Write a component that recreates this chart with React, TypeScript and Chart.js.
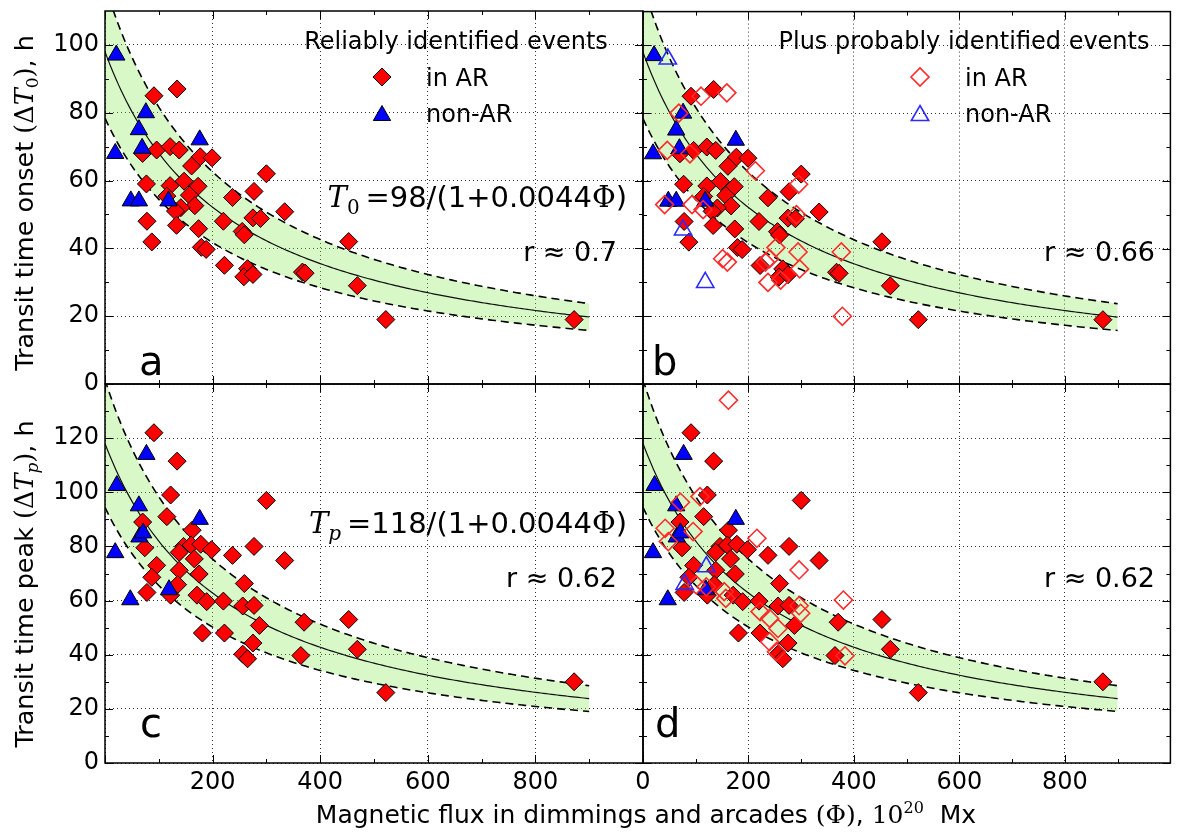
import React, { useEffect, useRef } from 'react';
import { Chart, registerables } from 'chart.js';

Chart.register(...registerables);

// ---------- data ----------
const X_TICKS = [0, 200, 400, 600, 800, 1000];
const X_MINOR = [100, 300, 500, 700, 900];
const ONSET_TICKS = [0, 20, 40, 60, 80, 100];
const ONSET_MINOR = [10, 30, 50, 70, 90];
const PEAK_TICKS = [0, 20, 40, 60, 80, 100, 120, 140];
const PEAK_MINOR = [10, 30, 50, 70, 90, 110, 130];

// fit: T = A / (1 + B * Phi), band +-20 %
const FIT_ONSET_A = 98;
const FIT_PEAK_A = 118;
const FIT_B = 0.0044;
const FIT_BAND = 0.2;
const FIT_PHI_MAX = 900;

// reliably identified, in AR: onset (panel a, b)
const onsetAR: number[][] = [
  [91, 85], [134, 87], [70, 68], [96, 69], [121, 70], [138, 69], [177, 67], [199, 66.7], [161, 64.3],
  [300, 62], [77, 59], [121, 58.5], [147, 59.8], [173, 58.3], [157, 55.7], [115, 55.4], [237, 55],
  [277, 56.8], [167, 52.6], [141, 52], [131, 51], [334, 50.8], [275, 49], [289, 48.8], [78, 48],
  [133, 46.8], [174, 45.8], [220, 48], [255, 45], [259, 44], [87, 41.9], [453, 42], [179, 40.3],
  [188, 39.7], [222, 35], [265, 34], [258, 31.6], [275, 32.3], [367, 33], [372, 32.7], [469, 29],
  [522, 19], [872, 19],
];
// reliably identified, non-AR: onset
const onsetNonAR: number[][] = [
  [21, 97], [19, 68], [76, 80], [63, 75], [69, 69.5], [176, 72], [48, 54], [63, 54], [118, 54],
];
// probably identified, in AR: onset (panel b)
const onsetProbAR: number[][] = [
  [110, 85], [159, 86], [68, 80], [46, 69], [89, 68], [213, 63], [295, 59], [41, 53], [93, 53],
  [114, 51.5], [291, 50], [252, 40.3], [294, 39], [376, 39], [151, 37], [160, 36], [232, 36],
  [240, 37], [297, 34], [237, 30], [261, 30.7], [378, 20],
];
// probably identified, non-AR: onset
const onsetProbNonAR: number[][] = [[47, 96], [76, 45.5], [118, 30]];

// reliably identified, in AR: peak (panel c, d)
const peakAR: number[][] = [
  [91, 122], [134, 111.5], [122, 99], [300, 97], [115, 91], [70, 89], [162, 86], [74, 79.5],
  [146, 80], [160, 80.5], [178, 80.8], [198, 78.8], [237, 76.7], [277, 80], [138, 77.8],
  [166, 75.4], [334, 74.8], [96, 73], [138, 71.2], [175, 69.8], [87, 68.6], [259, 66.3], [135, 65.9],
  [78, 63], [122, 62], [171, 62], [189, 59.6], [220, 59.8], [256, 58], [277, 58.2], [370, 52],
  [453, 53], [287, 50.8], [181, 48], [222, 48], [275, 44.3], [469, 42], [256, 40.2], [265, 38.5],
  [364, 39.7], [522, 26], [872, 30],
];
// reliably identified, non-AR: peak
const peakNonAR: number[][] = [
  [77, 114], [22, 102.5], [63, 95], [64, 83.5], [71, 85], [176, 90], [19, 77.7], [47, 60.3], [119, 64],
];
// probably identified, in AR: peak (panel d)
const peakProbAR: number[][] = [
  [162, 134], [71, 96.3], [108, 98.4], [42, 86.7], [48, 81.8], [95, 85.5], [216, 83], [296, 71.3],
  [101, 65.8], [120, 65.1], [154, 63.3], [157, 60.8], [380, 60.2], [222, 55.9], [240, 53.4],
  [256, 49.7], [296, 58.1], [299, 55.3], [240, 44.8], [253, 41.1], [383, 39.6],
];
// probably identified, non-AR: peak
const peakProbNonAR: number[][] = [[120, 72.5], [79, 66]];

// ---------- layout ----------
const W = 1182;
const H = 833;
const X_LEFT = 105;
const X_MID = 643;
const X_RIGHT = 1180;
const Y_TOP = 5;
const Y_MID = 384;
const Y_BOTTOM = 763;

const SANS = '"DejaVu Sans", sans-serif';
const SERIF = '"DejaVu Serif", serif';

type Seg = { t: string; f: string; dy?: number };

function drawRich(
  ctx: CanvasRenderingContext2D,
  segs: Seg[],
  x: number,
  y: number,
  align: 'left' | 'center' | 'right',
  rotate = false
) {
  ctx.save();
  ctx.translate(x, y);
  if (rotate) ctx.rotate(-Math.PI / 2);
  ctx.textBaseline = 'alphabetic';
  ctx.textAlign = 'left';
  ctx.fillStyle = '#000';
  let total = 0;
  for (const s of segs) {
    ctx.font = s.f;
    total += ctx.measureText(s.t).width;
  }
  let cx = align === 'left' ? 0 : align === 'center' ? -total / 2 : -total;
  for (const s of segs) {
    ctx.font = s.f;
    ctx.fillText(s.t, cx, s.dy || 0);
    cx += ctx.measureText(s.t).width;
  }
  ctx.restore();
}

function diamondPath(ctx: CanvasRenderingContext2D, x: number, y: number, r: number) {
  ctx.beginPath();
  ctx.moveTo(x - r, y);
  ctx.lineTo(x, y - r);
  ctx.lineTo(x + r, y);
  ctx.lineTo(x, y + r);
  ctx.closePath();
}
function trianglePath(ctx: CanvasRenderingContext2D, x: number, y: number, r: number) {
  ctx.beginPath();
  for (let i = 0; i < 3; i++) {
    const a = (i * 2 * Math.PI) / 3;
    const px = x + Math.sin(a) * r;
    const py = y - Math.cos(a) * r + r / 4;
    if (i === 0) ctx.moveTo(px, py);
    else ctx.lineTo(px, py);
  }
  ctx.closePath();
}

type Panel = {
  left: number;
  right: number;
  top: number;
  bottom: number;
  yMax: number;
  yTicks: number[];
  yMinor: number[];
  showY: boolean;
  showX: boolean;
  hiddenX: number[];
  hiddenY: number[];
  fitA: number;
  ar: number[][];
  nonAr: number[][];
  probAr?: number[][];
  probNonAr?: number[][];
  draw: (ctx: CanvasRenderingContext2D) => void;
};

const FORMULA_SIZE = 29;
const R_SIZE = 27;
const LEG_SIZE = 24;
const TITLE_SIZE = 25;

function formula(sub: string): Seg[] {
  return [
    { t: 'T', f: `italic ${FORMULA_SIZE}px ${SERIF}` },
    { t: sub, f: `${sub === 'p' ? 'italic ' : ''}20px ${SERIF}`, dy: 7 },
    { t: '\u2009=', f: `${FORMULA_SIZE}px ${SANS}` },
  ];
}

function yTitle(label: string, sub: string): Seg[] {
  const s = 25.5;
  return [
    { t: label, f: `${s}px ${SANS}` },
    { t: '(Δ', f: `${s}px ${SERIF}` },
    { t: 'T', f: `italic ${s}px ${SERIF}` },
    { t: sub, f: `${sub === 'p' ? 'italic ' : ''}17px ${SERIF}`, dy: 5 },
    { t: ')', f: `${s}px ${SERIF}` },
    { t: ', h', f: `${s}px ${SANS}` },
  ];
}

function legend(ctx: CanvasRenderingContext2D, title: string, cx: number, mx: number, tx: number, open: boolean) {
  drawRich(ctx, [{ t: title, f: `${LEG_SIZE}px ${SANS}` }], cx, 49, 'center');
  ctx.save();
  diamondPath(ctx, mx, 77, 9);
  if (open) {
    ctx.strokeStyle = '#ff2a2a';
    ctx.lineWidth = 1.6;
    ctx.stroke();
  } else {
    ctx.fillStyle = '#ff0000';
    ctx.fill();
    ctx.strokeStyle = '#000';
    ctx.lineWidth = 1;
    ctx.stroke();
  }
  trianglePath(ctx, mx, 113, 10);
  if (open) {
    ctx.strokeStyle = '#2a2aff';
    ctx.lineWidth = 1.6;
    ctx.stroke();
  } else {
    ctx.fillStyle = '#0000ff';
    ctx.fill();
    ctx.strokeStyle = '#000';
    ctx.lineWidth = 1;
    ctx.stroke();
  }
  ctx.restore();
  drawRich(ctx, [{ t: 'in AR', f: `${LEG_SIZE}px ${SANS}` }], tx, 86, 'left');
  drawRich(ctx, [{ t: 'non-AR', f: `${LEG_SIZE}px ${SANS}` }], tx, 122, 'left');
}

const PANELS: Panel[] = [
  {
    left: X_LEFT, right: X_MID, top: Y_TOP, bottom: Y_MID,
    yMax: 110, yTicks: ONSET_TICKS, yMinor: ONSET_MINOR,
    showY: true, showX: false, hiddenX: [], hiddenY: [],
    fitA: FIT_ONSET_A, ar: onsetAR, nonAr: onsetNonAR,
    draw: (ctx) => {
      legend(ctx, 'Reliably identified events', 456, 382, 426, false);
      drawRich(ctx, [...formula('0'), { t: '98/(1+0.0044', f: `${FORMULA_SIZE}px ${SANS}` }, { t: 'Φ', f: `${FORMULA_SIZE}px ${SERIF}` }, { t: ')', f: `${FORMULA_SIZE}px ${SANS}` }], 627, 207, 'right');
      drawRich(ctx, [{ t: 'r ≈ 0.7', f: `${R_SIZE}px ${SANS}` }], 617, 261, 'right');
      drawRich(ctx, [{ t: 'a', f: `40px ${SANS}` }], 139, 375, 'left');
      drawRich(ctx, yTitle('Transit time onset ', '0'), 33, 203, 'center', true);
    },
  },
  {
    left: X_MID, right: X_RIGHT, top: Y_TOP, bottom: Y_MID,
    yMax: 110, yTicks: ONSET_TICKS, yMinor: ONSET_MINOR,
    showY: false, showX: false, hiddenX: [], hiddenY: [],
    fitA: FIT_ONSET_A, ar: onsetAR, nonAr: onsetNonAR, probAr: onsetProbAR, probNonAr: onsetProbNonAR,
    draw: (ctx) => {
      legend(ctx, 'Plus probably identified events', 964, 920, 965, true);
      drawRich(ctx, [{ t: 'r ≈ 0.66', f: `${R_SIZE}px ${SANS}` }], 1155, 261, 'right');
      drawRich(ctx, [{ t: 'b', f: `40px ${SANS}` }], 652, 375, 'left');
    },
  },
  {
    left: X_LEFT, right: X_MID, top: Y_MID, bottom: Y_BOTTOM,
    yMax: 140, yTicks: PEAK_TICKS, yMinor: PEAK_MINOR,
    showY: true, showX: true, hiddenX: [0, 1000], hiddenY: [140],
    fitA: FIT_PEAK_A, ar: peakAR, nonAr: peakNonAR,
    draw: (ctx) => {
      drawRich(ctx, [...formula('p'), { t: '118/(1+0.0044', f: `${FORMULA_SIZE}px ${SANS}` }, { t: 'Φ', f: `${FORMULA_SIZE}px ${SERIF}` }, { t: ')', f: `${FORMULA_SIZE}px ${SANS}` }], 627, 533, 'right');
      drawRich(ctx, [{ t: 'r ≈ 0.62', f: `${R_SIZE}px ${SANS}` }], 617, 587, 'right');
      drawRich(ctx, [{ t: 'c', f: `40px ${SANS}` }], 140, 737, 'left');
      drawRich(ctx, yTitle('Transit time peak ', 'p'), 33, 584, 'center', true);
    },
  },
  {
    left: X_MID, right: X_RIGHT, top: Y_MID, bottom: Y_BOTTOM,
    yMax: 140, yTicks: PEAK_TICKS, yMinor: PEAK_MINOR,
    showY: false, showX: true, hiddenX: [1000], hiddenY: [],
    fitA: FIT_PEAK_A, ar: peakAR, nonAr: peakNonAR, probAr: peakProbAR, probNonAr: peakProbNonAR,
    draw: (ctx) => {
      drawRich(ctx, [{ t: 'r ≈ 0.62', f: `${R_SIZE}px ${SANS}` }], 1155, 587, 'right');
      drawRich(ctx, [{ t: 'd', f: `40px ${SANS}` }], 655, 737, 'left');
      drawRich(
        ctx,
        [
          { t: 'Magnetic flux in dimmings and arcades ', f: `${TITLE_SIZE}px ${SANS}` },
          { t: '(Φ)', f: `${TITLE_SIZE}px ${SERIF}` },
          { t: ', ', f: `${TITLE_SIZE}px ${SANS}` },
          { t: '10', f: `${TITLE_SIZE}px ${SERIF}` },
          { t: '20', f: `16px ${SERIF}`, dy: -10 },
          { t: '  Mx', f: `${TITLE_SIZE}px ${SANS}` },
        ],
        646,
        823,
        'center'
      );
    },
  },
];

function toXY(arr: number[][]) {
  return arr.map(([x, y]) => ({ x, y }));
}

function fitCurve(a: number, factor: number) {
  const pts: { x: number; y: number }[] = [];
  for (let phi = 0; phi <= FIT_PHI_MAX; phi += 5) {
    pts.push({ x: phi, y: (factor * a) / (1 + FIT_B * phi) });
  }
  return pts;
}

function makeOverlay(p: Panel) {
  return {
    id: 'overlay',
    afterDraw(chart: any) {
      const { ctx, chartArea: ca, scales } = chart;
      const xs = scales.x;
      const ys = scales.y;
      ctx.save();
      ctx.strokeStyle = '#000';
      ctx.lineWidth = 1;
      ctx.beginPath();
      const xt = (vals: number[], len: number) => {
        for (const v of vals) {
          const px = Math.round(xs.getPixelForValue(v)) + 0.5;
          ctx.moveTo(px, ca.bottom);
          ctx.lineTo(px, ca.bottom - len);
          ctx.moveTo(px, ca.top);
          ctx.lineTo(px, ca.top + len);
        }
      };
      const yt = (vals: number[], len: number) => {
        for (const v of vals) {
          const py = Math.round(ys.getPixelForValue(v)) + 0.5;
          ctx.moveTo(ca.left, py);
          ctx.lineTo(ca.left + len, py);
          ctx.moveTo(ca.right, py);
          ctx.lineTo(ca.right - len, py);
        }
      };
      xt(X_TICKS, 8);
      xt(X_MINOR, 4);
      yt(p.yTicks, 8);
      yt(p.yMinor, 4);
      ctx.stroke();
      ctx.lineWidth = 1.5;
      ctx.strokeRect(ca.left, ca.top, ca.right - ca.left, ca.bottom - ca.top);
      p.draw(ctx);
      ctx.restore();
    },
  };
}

function zeroPad(s: any) {
  s.paddingLeft = 0;
  s.paddingRight = 0;
  s.paddingTop = 0;
  s.paddingBottom = 0;
}

function makeConfig(p: Panel): any {
  const datasets: any[] = [
    {
      label: 'upper',
      data: fitCurve(p.fitA, 1 + FIT_BAND),
      showLine: true,
      pointRadius: 0,
      borderColor: '#000',
      borderWidth: 1.6,
      borderDash: [8, 5],
      fill: '+1',
      backgroundColor: 'rgba(128, 232, 72, 0.3)',
      order: 10,
    },
    {
      label: 'lower',
      data: fitCurve(p.fitA, 1 - FIT_BAND),
      showLine: true,
      pointRadius: 0,
      borderColor: '#000',
      borderWidth: 1.6,
      borderDash: [8, 5],
      fill: false,
      order: 9,
    },
    {
      label: 'fit',
      data: fitCurve(p.fitA, 1),
      showLine: true,
      pointRadius: 0,
      borderColor: '#111',
      borderWidth: 1.2,
      fill: false,
      order: 8,
    },
    {
      label: 'in AR',
      data: toXY(p.ar),
      pointStyle: 'rectRot',
      pointRadius: 9,
      backgroundColor: '#ff0000',
      borderColor: '#000',
      borderWidth: 1,
      order: 4,
    },
    {
      label: 'non-AR',
      data: toXY(p.nonAr),
      pointStyle: 'triangle',
      pointRadius: 10,
      backgroundColor: '#0000ff',
      borderColor: '#000',
      borderWidth: 1,
      order: 3,
    },
  ];
  if (p.probAr) {
    datasets.push({
      label: 'prob in AR',
      data: toXY(p.probAr),
      pointStyle: 'rectRot',
      pointRadius: 9,
      backgroundColor: 'rgba(0,0,0,0)',
      borderColor: '#ff2a2a',
      borderWidth: 1.6,
      order: 2,
    });
  }
  if (p.probNonAr) {
    datasets.push({
      label: 'prob non-AR',
      data: toXY(p.probNonAr),
      pointStyle: 'triangle',
      pointRadius: 10,
      backgroundColor: 'rgba(0,0,0,0)',
      borderColor: '#2a2aff',
      borderWidth: 1.6,
      order: 1,
    });
  }

  const gridCommon = { color: 'rgba(0,0,0,0.8)', lineWidth: 1, drawTicks: false };
  return {
    type: 'scatter',
    data: { datasets },
    options: {
      animation: false,
      responsive: false,
      devicePixelRatio: 1,
      events: [],
      layout: {
        padding: {
          left: 0,
          top: p.top,
          right: W - p.right,
          bottom: p.showX ? 0 : H - p.bottom,
        },
      },
      plugins: { legend: { display: false }, tooltip: { enabled: false }, title: { display: false } },
      scales: {
        x: {
          type: 'linear',
          min: 0,
          max: 1000,
          afterBuildTicks: (s: any) => {
            s.ticks = X_TICKS.map((v) => ({ value: v }));
          },
          afterFit: (s: any) => {
            s.height = p.showX ? H - p.bottom : 0;
            zeroPad(s);
          },
          grid: gridCommon,
          border: { display: false, dash: [1, 3] },
          ticks: {
            display: p.showX,
            padding: 5,
            color: '#000',
            autoSkip: false,
            maxRotation: 0,
            font: { family: 'DejaVu Sans', size: 24 },
            callback: (v: number) => (p.hiddenX.includes(v) ? '' : String(v)),
          },
        },
        y: {
          type: 'linear',
          min: 0,
          max: p.yMax,
          afterBuildTicks: (s: any) => {
            s.ticks = p.yTicks.map((v) => ({ value: v }));
          },
          afterFit: (s: any) => {
            s.width = p.left;
            zeroPad(s);
          },
          grid: gridCommon,
          border: { display: false, dash: [1, 3] },
          ticks: {
            display: p.showY,
            padding: 6,
            color: '#000',
            autoSkip: false,
            font: { family: 'DejaVu Sans', size: 24 },
            callback: (v: number) => (p.hiddenY.includes(v) ? '' : String(v)),
          },
        },
      },
    },
    plugins: [makeOverlay(p)],
  };
}

function PanelCanvas({ p }: { p: Panel }) {
  const ref = useRef<HTMLCanvasElement | null>(null);
  useEffect(() => {
    if (!ref.current) return;
    const chart = new Chart(ref.current, makeConfig(p));
    return () => chart.destroy();
  }, [p]);
  return (
    <canvas
      ref={ref}
      width={W}
      height={H}
      style={{ position: 'absolute', left: 0, top: 0, width: W, height: H }}
    />
  );
}

export default function App() {
  return (
    <div style={{ position: 'absolute', left: 0, top: 0, width: W, height: H, background: '#fff' }}>
      {PANELS.map((p, i) => (
        <PanelCanvas key={i} p={p} />
      ))}
    </div>
  );
}
